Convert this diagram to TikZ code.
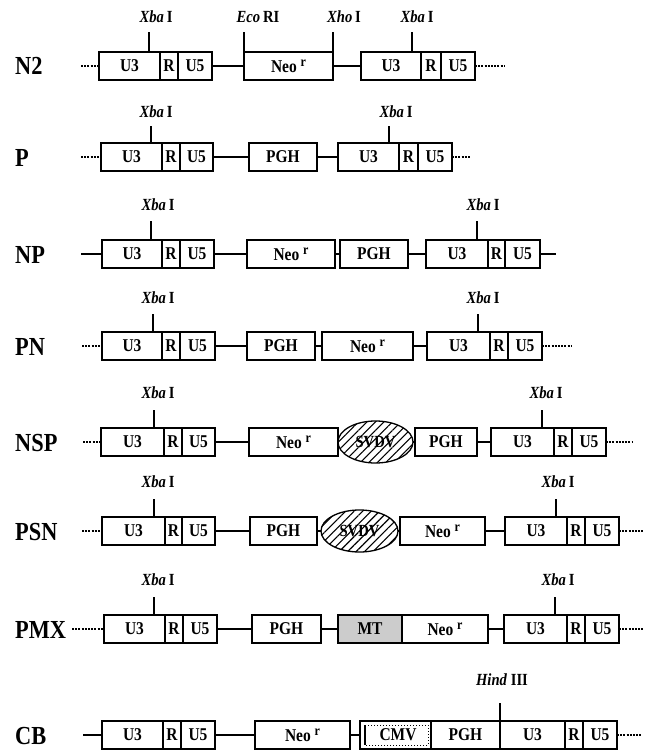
\documentclass[tikz,border=0pt]{standalone}
\usepackage{fontspec}
\setmainfont{Liberation Serif}
\newfontfamily\condfont[FakeStretch=0.86]{Liberation Serif}
\usetikzlibrary{shapes.geometric,patterns.meta}
\tikzset{
 bxs/.style={draw, line width=1.3pt, minimum height=28pt, inner sep=0pt, outer sep=0pt, font=\condfont\fontsize{18}{18}\selectfont\bfseries},
 lnk/.style={line width=1.3pt},
 lead/.style={line width=1.5pt, dash pattern=on 2pt off 1.2pt},
 solidlead/.style={line width=1.5pt},
 tick/.style={line width=1.2pt},
 site/.style={font=\condfont\fontsize{17}{17}\selectfont\bfseries, inner sep=0pt},
 rowlab/.style={font=\condfont\fontsize{26}{26}\selectfont\bfseries, anchor=west, inner sep=0pt},
 svbox/.style={ellipse, draw, line width=1.3pt, inner sep=0pt, outer sep=0pt,
   pattern={Lines[angle=45,distance=6pt,line width=1.1pt]},
   font=\condfont\fontsize{17}{17}\selectfont\bfseries},
 mtfill/.style={fill=gray!40},
 dotbox/.style={line width=1pt, dotted},
}
\newcommand\bx[6]{\pgfmathsetmacro\bxw{#3-#2}\node[bxs,#5,minimum width=\bxw pt,anchor=north west] (#1) at (#2,#4) {#6};}
\newcommand\ltr[6]{\bx{#1a}{#2}{#3}{#6}{}{U3}\bx{#1b}{#3}{#4}{#6}{}{R}\bx{#1c}{#4}{#5}{#6}{}{U5}}
\newcommand\neo{Neo\ \raisebox{6pt}{\fontsize{14}{14}\selectfont r}}
\newcommand\xba{\textit{Xba}\,I}
\begin{document}
\begin{tikzpicture}[x=1pt,y=-1pt]
\useasboundingbox[fill=white] (0,0) rectangle (650,755);
% ---------------- N2
\node[rowlab] (lN2) at (15,66) {N2};
\ltr{na}{99}{160}{178}{212}{52}
\bx{nneo}{244}{333}{52}{}{\neo}
\ltr{nb}{361}{421}{441}{475}{52}
\coordinate (ns) at (81,66); \coordinate (ne) at (504,66);
\draw[lead] (ns) -- (naa.west);
\draw[lnk] (nac.east) -- (nneo.west);
\draw[lnk] (nneo.east) -- (nba.west);
\draw[lead] (nbc.east) -- (ne);
\coordinate (nt1) at (149,32); \draw[tick] (nt1) -- (nt1 |- naa.north);
\coordinate (nt2) at (244,32); \draw[tick] (nt2) -- (nneo.north west);
\coordinate (nt3) at (333,32); \draw[tick] (nt3) -- (nneo.north east);
\coordinate (nt4) at (412,32); \draw[tick] (nt4) -- (nt4 |- nba.north);
\node[site] (nl1) at (156,17) {\xba};
\node[site] (nl2) at (258,17) {\textit{Eco}\,RI};
\node[site] (nl3) at (344,17) {\textit{Xho}\,I};
\node[site] (nl4) at (417,17) {\xba};
% ---------------- P
\node[rowlab] (lP) at (15,158) {P};
\ltr{pa}{101}{162}{180}{213}{143}
\bx{ppgh}{249}{317}{143}{}{PGH}
\ltr{pb}{338}{399}{418}{452}{143}
\coordinate (ps) at (81,157); \coordinate (pe) at (471,157);
\draw[lead] (ps) -- (paa.west);
\draw[lnk] (pac.east) -- (ppgh.west);
\draw[lnk] (ppgh.east) -- (pba.west);
\draw[lead] (pbc.east) -- (pe);
\coordinate (pt1) at (151,126); \draw[tick] (pt1) -- (pt1 |- paa.north);
\coordinate (pt2) at (389,126); \draw[tick] (pt2) -- (pt2 |- pba.north);
\node[site] (pl1) at (156,112) {\xba};
\node[site] (pl2) at (396,112) {\xba};
% ---------------- NP
\node[rowlab] (lNP) at (15,255) {NP};
\ltr{npa}{102}{162}{180}{214}{240}
\bx{npneo}{247}{335}{240}{}{\neo}
\bx{nppgh}{340}{408}{240}{}{PGH}
\ltr{npb}{426}{488}{505}{540}{240}
\coordinate (nps) at (81,254); \coordinate (npe) at (556,254);
\draw[solidlead] (nps) -- (npaa.west);
\draw[lnk] (npac.east) -- (npneo.west);
\draw[lnk] (npneo.east) -- (nppgh.west);
\draw[lnk] (nppgh.east) -- (npba.west);
\draw[solidlead] (npbc.east) -- (npe);
\coordinate (npt1) at (151,221); \draw[tick] (npt1) -- (npt1 |- npaa.north);
\coordinate (npt2) at (477,221); \draw[tick] (npt2) -- (npt2 |- npba.north);
\node[site] (npl1) at (158,205) {\xba};
\node[site] (npl2) at (483,205) {\xba};
% ---------------- PN
\node[rowlab] (lPN) at (15,347) {PN};
\ltr{pna}{102}{162}{180}{215}{332}
\bx{pnpgh}{247}{315}{332}{}{PGH}
\bx{pnneo}{322}{413}{332}{}{\neo}
\ltr{pnb}{427}{490}{508}{542}{332}
\coordinate (pns) at (82,346); \coordinate (pne) at (571,346);
\draw[lead] (pns) -- (pnaa.west);
\draw[lnk] (pnac.east) -- (pnpgh.west);
\draw[lnk] (pnpgh.east) -- (pnneo.west);
\draw[lnk] (pnneo.east) -- (pnba.west);
\draw[lead] (pnbc.east) -- (pne);
\coordinate (pnt1) at (153,314); \draw[tick] (pnt1) -- (pnt1 |- pnaa.north);
\coordinate (pnt2) at (478,314); \draw[tick] (pnt2) -- (pnt2 |- pnba.north);
\node[site] (pnl1) at (158,298) {\xba};
\node[site] (pnl2) at (483,298) {\xba};
% ---------------- NSP
\node[rowlab] (lNSP) at (15,443) {NSP};
\ltr{nsa}{101}{164}{182}{215}{428}
\bx{nsneo}{249}{338}{428}{}{\neo}
\node[svbox, minimum width=75pt, minimum height=42pt] (nssv) at (375.5,442) {SVDV};
\bx{nspgh}{415}{477}{428}{}{PGH}
\ltr{nsb}{491}{554}{572}{606}{428}
\coordinate (nss) at (83,442); \coordinate (nse) at (633,442);
\draw[lead] (nss) -- (nsaa.west);
\draw[lnk] (nsac.east) -- (nsneo.west);
\draw[lnk] (nssv.east) -- (nspgh.west);
\draw[lnk] (nspgh.east) -- (nsba.west);
\draw[lead] (nsbc.east) -- (nse);
\coordinate (nst1) at (154,410); \draw[tick] (nst1) -- (nst1 |- nsaa.north);
\coordinate (nst2) at (542,410); \draw[tick] (nst2) -- (nst2 |- nsba.north);
\node[site] (nsl1) at (158,393) {\xba};
\node[site] (nsl2) at (546,393) {\xba};
% ---------------- PSN
\node[rowlab] (lPSN) at (15,532) {PSN};
\ltr{psa}{102}{165}{182}{215}{517}
\bx{pspgh}{250}{317}{517}{}{PGH}
\node[svbox, minimum width=77pt, minimum height=42pt] (pssv) at (359.5,531) {SVDV};
\bx{psneo}{400}{485}{517}{}{\neo}
\ltr{psb}{505}{567}{585}{619}{517}
\coordinate (pss) at (82,531); \coordinate (pse) at (644,531);
\draw[lead] (pss) -- (psaa.west);
\draw[lnk] (psac.east) -- (pspgh.west);
\draw[lnk] (pspgh.east) -- (pssv.west);
\draw[lnk] (pssv.east) -- (psneo.west);
\draw[lnk] (psneo.east) -- (psba.west);
\draw[lead] (psbc.east) -- (pse);
\coordinate (pst1) at (154,499); \draw[tick] (pst1) -- (pst1 |- psaa.north);
\coordinate (pst2) at (556,499); \draw[tick] (pst2) -- (pst2 |- psba.north);
\node[site] (psl1) at (158,482) {\xba};
\node[site] (psl2) at (558,482) {\xba};
% ---------------- PMX
\node[rowlab] (lPMX) at (15,630) {PMX};
\ltr{pma}{104}{165}{183}{217}{615}
\bx{pmpgh}{252}{321}{615}{}{PGH}
\bx{pmmt}{338}{402}{615}{mtfill}{MT}
\bx{pmneo}{402}{488}{615}{}{\neo}
\ltr{pmb}{504}{567}{585}{619}{615}
\coordinate (pms) at (72,629); \coordinate (pme) at (644,629);
\draw[lead] (pms) -- (pmaa.west);
\draw[lnk] (pmac.east) -- (pmpgh.west);
\draw[lnk] (pmpgh.east) -- (pmmt.west);
\draw[lnk] (pmneo.east) -- (pmba.west);
\draw[lead] (pmbc.east) -- (pme);
\coordinate (pmt1) at (154,597); \draw[tick] (pmt1) -- (pmt1 |- pmaa.north);
\coordinate (pmt2) at (555,597); \draw[tick] (pmt2) -- (pmt2 |- pmba.north);
\node[site] (pml1) at (158,580) {\xba};
\node[site] (pml2) at (558,580) {\xba};
% ---------------- CB
\node[rowlab] (lCB) at (15,736) {CB};
\ltr{cba}{102}{163}{181}{215}{721}
\bx{cbneo}{255}{350}{721}{}{\neo}
\bx{cbcmv}{360}{431}{721}{}{}
\bx{cbpgh}{431}{500}{721}{}{PGH}
\ltr{cbb}{500}{565}{583}{617}{721}
\node[font=\condfont\fontsize{18}{18}\selectfont\bfseries, inner sep=0pt] (cbcmvt) at (398,735) {CMV};
\coordinate (cbd1) at (365,725); \coordinate (cbd2) at (428,745);
\draw[lnk] (cbd1) -- (cbd1 |- cbd2);
\draw[dotbox] (cbd1) -- (cbd1 -| cbd2) -- (cbd2) -- (cbd2 -| cbd1);
\coordinate (cbs) at (83,735); \coordinate (cbe) at (642,735);
\draw[solidlead] (cbs) -- (cbaa.west);
\draw[lnk] (cbac.east) -- (cbneo.west);
\draw[lnk] (cbneo.east) -- (cbcmv.west);
\draw[lead] (cbbc.east) -- (cbe);
\coordinate (cbt1) at (500,703); \draw[tick] (cbt1) -- (cbba.north west);
\node[site] (cbl1) at (502,680) {\textit{Hind}\ III};
\end{tikzpicture}
\end{document}
